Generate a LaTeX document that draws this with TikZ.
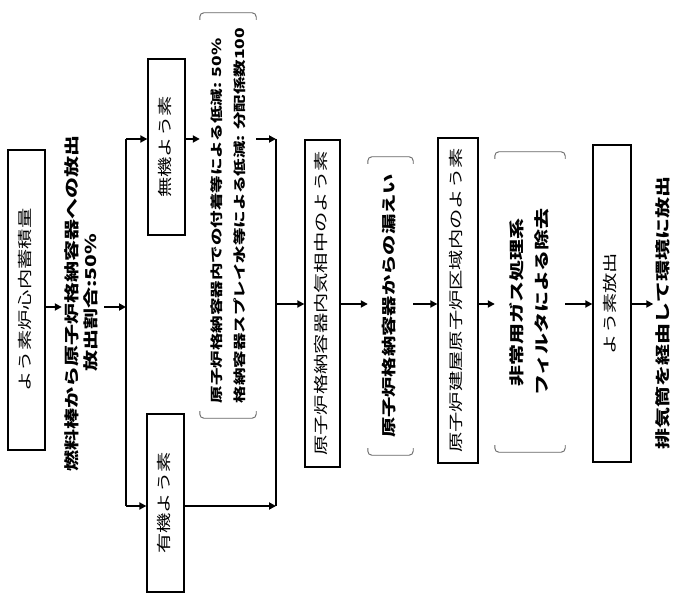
\documentclass[tikz,border=0pt]{standalone}
\usepackage{fontspec}
\setmainfont{Noto Sans CJK JP}[FakeStretch=1.4]
\usepackage{tikz}
\usetikzlibrary{
    positioning, % For placing nodes relative to each other
    arrows.meta, % For the filled arrow tips
    calc         % For the bracket ends
}
% text turned to read from bottom to top
\newcommand{\vtext}[2][c]{\rotatebox{90}{\begin{tabular}{@{}#1@{}}#2\end{tabular}}}
% a pair of brackets above and below a note
\newcommand{\bracketpair}[1]{%
    \draw[bracket_line] ($(#1.north west)+(0,7)$) -- (#1.north west) -- (#1.north east) -- ($(#1.north east)+(0,7)$);
    \draw[bracket_line] ($(#1.south west)+(0,-7)$) -- (#1.south west) -- (#1.south east) -- ($(#1.south east)+(0,-7)$);
}
\tikzset{
    % A box for each stage of the iodine path
    stage_node/.style={
        rectangle, draw=black, line width=1.3pt, fill=white,
        inner sep=0pt, align=center, font=\fontsize{14.5}{17}\selectfont
    },
    % Free text between the stages
    note_node/.style={
        inner sep=2pt, align=center, font=\bfseries\fontsize{15}{19}\selectfont
    },
    % Connectors
    flow_arrow/.style={-{Triangle[length=7pt,width=7pt]}, line width=2pt, draw=black},
    trunk_line/.style={line width=2pt, draw=black},
    bracket_line/.style={line width=0.9pt, draw=black!60, rounded corners=4pt}
}

\begin{document}
\begin{tikzpicture}[x=1pt, y=-1pt]
\useasboundingbox[fill=white] (0,0) rectangle (678,596);

% --- NODE DEFINITIONS ---

% Core inventory and release from the fuel
\node[stage_node, minimum width=37pt, minimum height=300pt] (core) at (26.5,300) {\vtext{よう素炉心内蓄積量}};
\node[note_node] (fuel_release) at (83,303) {\vtext{燃料棒から原子炉格納容器への放出\\放出割合:50\%}};

% Chemical forms
\node[stage_node, minimum width=37pt, minimum height=176pt] (inorganic) at (166.5,147) {\vtext{無機よう素}};
\node[stage_node, minimum width=37pt, minimum height=178pt] (organic) at (165.5,503) {\vtext{有機よう素}};

% Removal inside the containment
\node[note_node, font=\bfseries\fontsize{12.5}{23}\selectfont, minimum width=56pt, minimum height=405pt] (deposition) at (228,215.5)
    {\vtext[l]{原子炉格納容器内での付着等による低減: 50\%\\格納容器スプレイ水等による低減: 分配係数100}};

% Containment, leakage and reactor building
\node[stage_node, minimum width=35pt, minimum height=327pt] (gas_phase) at (322.5,303.5) {\vtext{原子炉格納容器内気相中のよう素}};
\node[note_node, font=\bfseries\fontsize{14.5}{19}\selectfont, minimum width=45pt, minimum height=298pt] (leakage) at (390.5,306) {\vtext{原子炉格納容器からの漏えい}};
\node[stage_node, minimum width=40pt, minimum height=325pt] (building) at (458,300.5) {\vtext{原子炉建屋原子炉区域内のよう素}};

% Filtering and release to the environment
\node[note_node, font=\bfseries\fontsize{15}{25}\selectfont, minimum width=70pt, minimum height=300pt] (sgts) at (530,302) {\vtext{非常用ガス処理系\\フィルタによる除去}};
\node[stage_node, minimum width=38pt, minimum height=317pt] (emission) at (612,303.5) {\vtext{よう素放出}};
\node[note_node] (stack) at (665,313) {\vtext{排気筒を経由して環境に放出}};

% --- BRACKETS ---
\bracketpair{deposition}
\bracketpair{leakage}
\bracketpair{sgts}

% --- EDGE ROUTING ---
\coordinate (trunk) at (126,307);
\coordinate (split_top) at (126,139);
\coordinate (split_bot) at (126,506);
\coordinate (join_top) at (276,139);
\coordinate (join_bot) at (276,506);
\coordinate (join_mid) at (276,304);

% Release from the core, split into the two forms
\draw[flow_arrow] (core.east |- trunk) -- (fuel_release.west |- trunk);
\draw[flow_arrow] (fuel_release.east |- trunk) -- (trunk);
\draw[trunk_line] (split_top) -- (split_bot);
\draw[flow_arrow] (split_top) -- (inorganic.west |- split_top);
\draw[flow_arrow] (split_bot) -- (organic.west |- split_bot);

% Inorganic iodine passes the removal, organic goes straight on
\draw[flow_arrow] (inorganic.east |- split_top) -- (deposition.west |- split_top);
\draw[flow_arrow] (deposition.east |- split_top) -- (join_top);
\draw[flow_arrow] (organic.east |- split_bot) -- (join_bot);
\draw[trunk_line] (join_top) -- (join_bot);

% Main path to the stack
\draw[flow_arrow] (join_mid) -- (gas_phase.west |- join_mid);
\draw[flow_arrow] (gas_phase.east |- join_mid) -- (leakage.west |- join_mid);
\draw[flow_arrow] (leakage.east |- join_mid) -- (building.west |- join_mid);
\draw[flow_arrow] (building.east |- join_mid) -- (sgts.west |- join_mid);
\draw[flow_arrow] (sgts.east |- join_mid) -- (emission.west |- join_mid);
\draw[flow_arrow] (emission.east |- join_mid) -- (stack.west |- join_mid);

\end{tikzpicture}
\end{document}
